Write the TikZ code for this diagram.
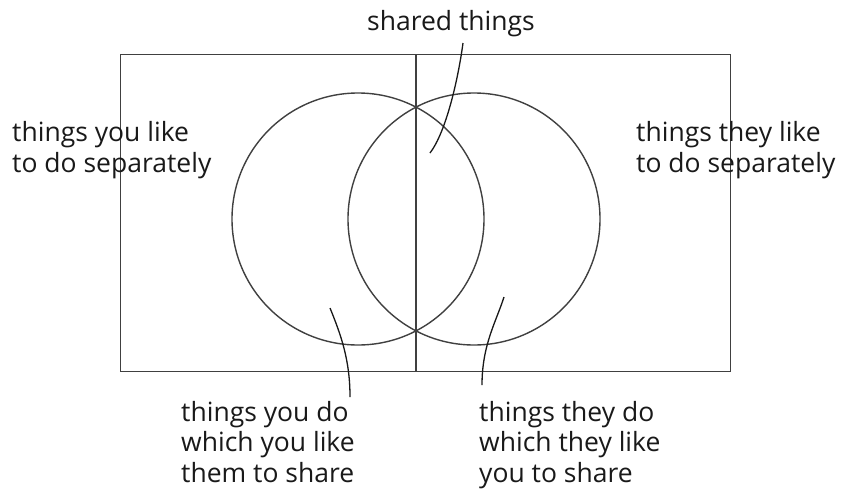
\documentclass[tikz,border=0pt]{standalone}
\usepackage{fontspec}
\setmainfont{Open Sans}
\usetikzlibrary{positioning}

\begin{document}
\begin{tikzpicture}[x=1pt,y=-1pt,
 ink/.style={draw=black!75,line width=1.4pt},
 ring/.style={ink,circle,minimum size=252pt,inner sep=0pt},
 note/.style={align=left,inner sep=0pt,text=black!90,
 font=\fontsize{26.5}{30.5}\selectfont},
 lead/.style={draw=black!90,line width=1.3pt}]
\useasboundingbox (0,0) rectangle (845,491);
\node[ink,minimum width=610pt,minimum height=317pt,
 inner sep=0pt,anchor=north west] (frame) at (120,54) {};
\node[ring] (you) at (358,219) {};
\node[ring] (they) at (474,219) {};
\draw[ink] (frame.north -| 416,0) coordinate (mtop) -- (frame.south -| 416,0) coordinate (mbot);
% labels (base = last line)
\node[note,anchor=base] (shared) at (451,30) {shared things};
\node[note,anchor=base west] (youalone) at (12,172) {things you like\\to do separately};
\node[note,anchor=base west] (theyalone) at (636,172) {things they like\\to do separately};
\node[note,anchor=base west] (youshare) at (181,482) {things you do\\which you like\\them to share};
\node[note,anchor=base west] (theyshare) at (479,482) {things they do\\which they like\\you to share};
% leader lines
\coordinate (s0) at (463,43); \coordinate (s1) at (430,153);
\coordinate (y0) at (330,308); \coordinate (y1) at (350,397);
\coordinate (t0) at (504,297); \coordinate (t1) at (482,385);
\draw[lead] (s0) .. controls (458,80) and (446,132) .. (s1);
\draw[lead] (y0) .. controls (341,335) and (350,360) .. (y1);
\draw[lead] (t0) .. controls (496,322) and (482,345) .. (t1);
\end{tikzpicture}
\end{document}
